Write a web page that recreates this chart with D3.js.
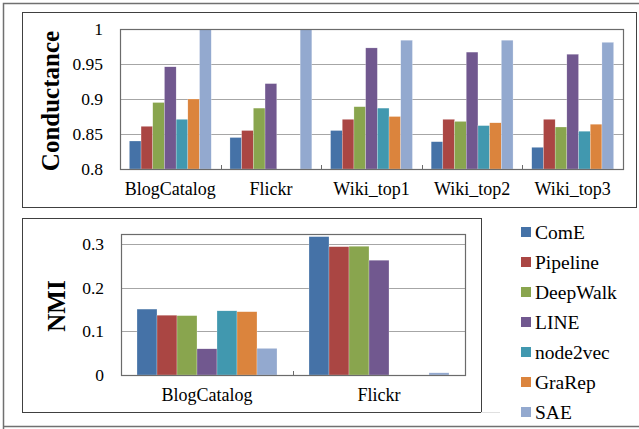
<!DOCTYPE html>
<html>
<head>
<meta charset="utf-8">
<script src="https://cdn.jsdelivr.net/npm/d3@7"></script>
<style>
  body { margin: 0; background: #fff; }
  svg text { font-family: "Liberation Serif", "Times New Roman", serif; fill: #000; }
  .grid line { stroke: #a6a6a6; stroke-width: 1; }
  .axis .domain { display: none; }
</style>
</head>
<body>
<svg width="639" height="429"></svg>
<script>
// ---- data ----
var methods = ["ComE", "Pipeline", "DeepWalk", "LINE", "node2vec", "GraRep", "SAE"];
var colors = ["#4572A7", "#AA4643", "#89A54E", "#71588F", "#4198AF", "#DB843D", "#93A9CF"];

var condDatasets = ["BlogCatalog", "Flickr", "Wiki_top1", "Wiki_top2", "Wiki_top3"];
var condComE     = [0.840, 0.845, 0.855, 0.839, 0.831];
var condPipeline = [0.861, 0.855, 0.871, 0.871, 0.871];
var condDeepWalk = [0.895, 0.887, 0.889, 0.868, 0.860];
var condLINE     = [0.946, 0.922, 0.973, 0.967, 0.964];
var condNode2vec = [0.871, null,  0.887, 0.862, 0.854];
var condGraRep   = [0.900, null,  0.875, 0.866, 0.864];
var condSAE      = [1.000, 1.000, 0.984, 0.984, 0.981];
var condTicks = [0.8, 0.85, 0.9, 0.95, 1];

var nmiDatasets = ["BlogCatalog", "Flickr"];
var nmiComE     = [0.151, 0.317];
var nmiPipeline = [0.137, 0.294];
var nmiDeepWalk = [0.136, 0.295];
var nmiLINE     = [0.060, 0.263];
var nmiNode2vec = [0.147, null];
var nmiGraRep   = [0.145, null];
var nmiSAE      = [0.061, 0.005];
var nmiTicks = [0, 0.1, 0.2, 0.3];

var condSeries = [condComE, condPipeline, condDeepWalk, condLINE, condNode2vec, condGraRep, condSAE];
var nmiSeries = [nmiComE, nmiPipeline, nmiDeepWalk, nmiLINE, nmiNode2vec, nmiGraRep, nmiSAE];

var svg = d3.select("svg");

// outer frame and the two chart boxes
svg.append("path")
    .attr("d", "M3.5,429 V3.5 H639")
    .attr("fill", "none").attr("stroke", "#707070").attr("stroke-width", 1.5);
svg.append("line")
    .attr("x1", 3).attr("x2", 639).attr("y1", 426.5).attr("y2", 426.5)
    .attr("stroke", "#707070").attr("stroke-width", 1.5);
svg.append("rect")
    .attr("x", 22.5).attr("y", 12.5).attr("width", 614).attr("height", 195)
    .attr("fill", "none").attr("stroke", "#404040");
svg.append("rect")
    .attr("x", 22.5).attr("y", 218.5).attr("width", 459).attr("height", 194)
    .attr("fill", "none").attr("stroke", "#404040");
svg.append("line")
    .attr("x1", 481).attr("x2", 500).attr("y1", 412.5).attr("y2", 412.5)
    .attr("stroke", "#e0e0e0");

function drawChart(cfg) {
    var x = d3.scaleBand().domain(cfg.cats).range([cfg.left, cfg.right]);
    var y = d3.scaleLinear().domain(cfg.domain).range([cfg.bottom, cfg.top]);

    // gap width 160% of a bar, split on both sides of each group
    var barW = x.bandwidth() / (methods.length + 1.6);
    var inner = d3.scaleBand().domain(d3.range(methods.length))
        .range([barW * 0.8, barW * 0.8 + barW * methods.length]);

    var g = svg.append("g");

    g.append("g").attr("class", "grid")
        .selectAll("line").data(cfg.ticks).join("line")
        .attr("x1", cfg.left).attr("x2", cfg.right)
        .attr("y1", d => Math.round(y(d)) + 0.5).attr("y2", d => Math.round(y(d)) + 0.5);

    cfg.series.forEach(function (vals, i) {
        g.append("g").selectAll("rect")
            .data(vals.map((v, j) => ({ cat: cfg.cats[j], v: v })).filter(d => d.v != null))
            .join("rect")
            .attr("x", d => x(d.cat) + inner(i))
            .attr("width", inner.bandwidth())
            .attr("y", d => y(d.v))
            .attr("height", d => y(cfg.domain[0]) - y(d.v))
            .attr("fill", colors[i])
            .attr("stroke", "#ffffff").attr("stroke-width", 0.4).attr("stroke-opacity", 0.6);
    });

    // plot border
    g.append("rect")
        .attr("x", cfg.left + 0.5).attr("y", cfg.top + 0.5)
        .attr("width", cfg.right - cfg.left).attr("height", cfg.bottom - cfg.top)
        .attr("fill", "none").attr("stroke", "#6b6b6b").attr("stroke-width", 1.2);

    // category boundary ticks
    g.selectAll(".ctick").data(cfg.cats.slice(1)).join("line")
        .attr("x1", d => Math.round(x(d)) + 0.5).attr("x2", d => Math.round(x(d)) + 0.5)
        .attr("y1", cfg.bottom - 4).attr("y2", cfg.bottom)
        .attr("stroke", "#6b6b6b");

    var yAxis = d3.axisLeft(y).tickValues(cfg.ticks).tickSize(0).tickPadding(17)
        .tickFormat(d3.format(cfg.fmt));
    g.append("g").attr("class", "axis")
        .attr("transform", "translate(" + cfg.left + ",0)")
        .call(yAxis)
        .call(a => a.selectAll(".tick text")
            .attr("font-family", "Liberation Serif").attr("font-size", 17.5));

    var xAxis = d3.axisBottom(x).tickSize(0).tickPadding(13);
    g.append("g").attr("class", "axis")
        .attr("transform", "translate(0," + cfg.bottom + ")")
        .call(xAxis)
        .call(a => a.selectAll(".tick text")
            .attr("font-family", "Liberation Serif").attr("font-size", 18));

    g.append("text")
        .attr("transform", "translate(" + cfg.labelX + "," + cfg.labelY + ") rotate(-90)")
        .attr("text-anchor", "middle")
        .attr("font-weight", "bold").attr("font-size", 25)
        .text(cfg.label);
}

drawChart({
    cats: condDatasets, series: condSeries, domain: [0.8, 1], ticks: condTicks, fmt: "",
    left: 120, right: 623, top: 29, bottom: 169,
    label: "Conductance", labelX: 59, labelY: 101
});

drawChart({
    cats: nmiDatasets, series: nmiSeries, domain: [0, 0.323], ticks: nmiTicks, fmt: "",
    left: 121, right: 465, top: 234, bottom: 375,
    label: "NMI", labelX: 65, labelY: 306
});

// legend
var legend = svg.append("g").selectAll("g").data(methods).join("g")
    .attr("transform", (d, i) => "translate(521," + (232 + i * 30) + ")");
legend.append("rect")
    .attr("x", 0).attr("y", -5).attr("width", 10).attr("height", 10)
    .attr("fill", (d, i) => colors[i]);
legend.append("text")
    .attr("x", 14).attr("y", 6.5)
    .attr("font-size", 19.5)
    .text(d => d);
</script>
</body>
</html>
